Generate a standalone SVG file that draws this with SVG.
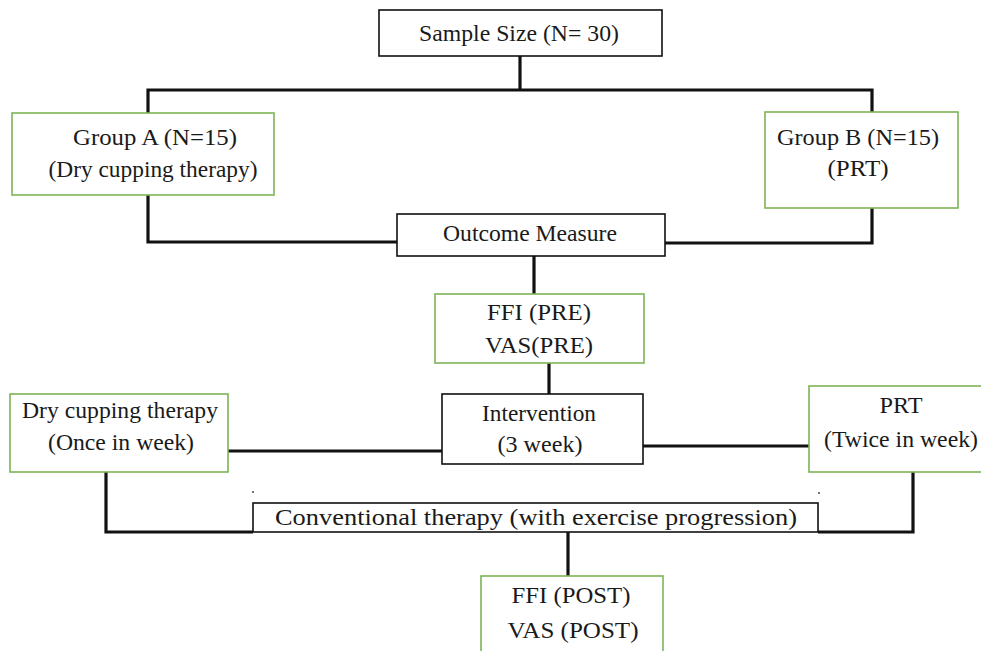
<svg xmlns="http://www.w3.org/2000/svg" width="981" height="651" viewBox="0 0 981 651" font-family="Liberation Serif, Times New Roman, DejaVu Serif, serif">
<style>
.bk{fill:#fff;stroke:#111;stroke-width:1.6}
.gr{fill:#fff;stroke:#7cb455;stroke-width:1.6}
.t{font-size:23px;fill:#1a1a1a;text-anchor:middle}
.c{fill:none;stroke:#111;stroke-width:3.2;stroke-linejoin:miter}
</style>
<rect width="981" height="651" fill="#fff"/>
<g id="connectors">
<polyline class="c" points="520,56 520,90"/>
<polyline class="c" points="148,113 148,90 872,90 872,112"/>
<polyline class="c" points="148,195 148,242 398,242"/>
<polyline class="c" points="872,208 872,243 665,243"/>
<polyline class="c" points="534,256 534,294"/>
<polyline class="c" points="549,363 549,394"/>
<polyline class="c" points="228,451 442,451"/>
<polyline class="c" points="643,446 809,446"/>
<polyline class="c" points="106,472 106,532 253,532"/>
<polyline class="c" points="913,472 913,532 818,532"/>
<polyline class="c" points="568,532 568,576"/>
<circle cx="253" cy="492" r="0.9" fill="#333"/>
<circle cx="819" cy="493" r="0.9" fill="#333"/>
</g>
<g id="sample">
<rect class="bk" x="379" y="10" width="283" height="46"/>
<text class="t" x="519" y="41" textLength="200" lengthAdjust="spacingAndGlyphs">Sample Size (N= 30)</text>
</g>
<g id="groupA">
<rect class="gr" x="12" y="113" width="262" height="82"/>
<text class="t" x="155" y="145" textLength="164" lengthAdjust="spacingAndGlyphs">Group A (N=15)</text>
<text class="t" x="153" y="177" textLength="209" lengthAdjust="spacingAndGlyphs">(Dry cupping therapy)</text>
</g>
<g id="groupB">
<rect class="gr" x="765" y="112" width="193" height="96"/>
<text class="t" x="858" y="145" textLength="162" lengthAdjust="spacingAndGlyphs">Group B (N=15)</text>
<text class="t" x="858" y="176" textLength="61" lengthAdjust="spacingAndGlyphs">(PRT)</text>
</g>
<g id="outcome">
<rect class="bk" x="397" y="214" width="268" height="42"/>
<text class="t" x="530" y="241" textLength="174" lengthAdjust="spacingAndGlyphs">Outcome Measure</text>
</g>
<g id="pre">
<rect class="gr" x="435" y="294" width="209" height="69"/>
<text class="t" x="539" y="320" textLength="104" lengthAdjust="spacingAndGlyphs">FFI (PRE)</text>
<text class="t" x="539" y="353" textLength="108" lengthAdjust="spacingAndGlyphs">VAS(PRE)</text>
</g>
<g id="intervention">
<rect class="bk" x="442" y="394" width="201" height="70"/>
<text class="t" x="539" y="421" textLength="114" lengthAdjust="spacingAndGlyphs">Intervention</text>
<text class="t" x="540" y="452" textLength="85" lengthAdjust="spacingAndGlyphs">(3 week)</text>
</g>
<g id="dry">
<rect class="gr" x="10" y="394" width="218" height="78"/>
<text class="t" x="120" y="418" textLength="196" lengthAdjust="spacingAndGlyphs">Dry cupping therapy</text>
<text class="t" x="121" y="450" textLength="146" lengthAdjust="spacingAndGlyphs">(Once in week)</text>
</g>
<g id="prt">
<rect class="gr" x="809" y="386" width="180" height="86"/>
<text class="t" x="901" y="413" textLength="43" lengthAdjust="spacingAndGlyphs">PRT</text>
<text class="t" x="901" y="447" textLength="154" lengthAdjust="spacingAndGlyphs">(Twice in week)</text>
</g>
<g id="conventional">
<rect class="bk" x="253" y="503" width="565" height="29"/>
<text class="t" x="536" y="525" textLength="522" lengthAdjust="spacingAndGlyphs">Conventional therapy (with exercise progression)</text>
</g>
<g id="post">
<rect class="gr" x="481" y="576" width="182" height="90"/>
<text class="t" x="571" y="603" textLength="119" lengthAdjust="spacingAndGlyphs">FFI (POST)</text>
<text class="t" x="573" y="638" textLength="131" lengthAdjust="spacingAndGlyphs">VAS (POST)</text>
</g>
</svg>
